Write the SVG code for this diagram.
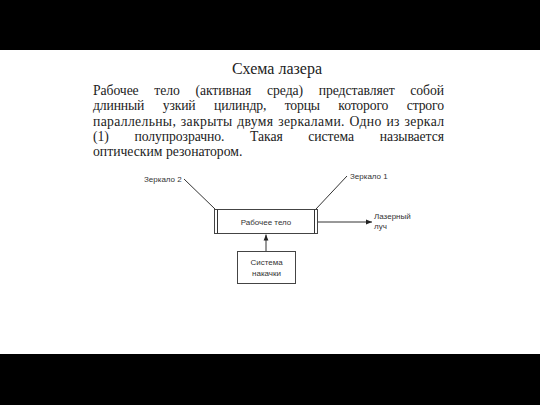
<svg xmlns="http://www.w3.org/2000/svg" width="540" height="405" viewBox="0 0 540 405">
<defs>
<style>
.t{font-family:"Liberation Serif","Times New Roman",serif;font-size:13.7px;fill:#222}
.h{font-family:"Liberation Serif","Times New Roman",serif;font-size:16px;fill:#222}
.d{font-family:"Liberation Sans",Arial,sans-serif;font-size:8px;fill:#333}
.b{fill:#fff;stroke:#444;stroke-width:1}
.c{stroke:#333;stroke-width:1;fill:none}
</style>
<marker id="ah" viewBox="0 0 10 10" refX="10" refY="5" markerWidth="6" markerHeight="6" orient="auto" markerUnits="userSpaceOnUse">
<path d="M0,1 L10,5 L0,9 z" fill="#222"/>
</marker>
</defs>
<rect x="0" y="0" width="540" height="405" fill="#fff"/>
<rect x="0" y="0" width="540" height="50" fill="#000"/>
<rect x="0" y="354" width="540" height="51" fill="#000"/>

<text class="h" x="277" y="74" text-anchor="middle">Схема лазера</text>
<g class="t">
<text x="93" y="95" textLength="351" lengthAdjust="spacing" word-spacing="12.4">Рабочее тело (активная среда) представляет собой</text>
<text x="93" y="110" textLength="351" lengthAdjust="spacing" word-spacing="15.2">длинный узкий цилиндр, торцы которого строго</text>
<text x="93" y="126" textLength="351" lengthAdjust="spacing" word-spacing="1">параллельны, закрыты двумя зеркалами. Одно из зеркал</text>
<text x="93" y="141" textLength="351" lengthAdjust="spacing" word-spacing="22.3">(1) полупрозрачно. Такая система называется</text>
<text x="93" y="156">оптическим резонатором.</text>
</g>

<g id="connectors">
<line class="c" x1="184" y1="179" x2="215" y2="209"/>
<line class="c" x1="347" y1="176" x2="316" y2="209"/>
<line class="c" x1="318" y1="222" x2="372" y2="222" marker-end="url(#ah)"/>
<line class="c" x1="266" y1="251" x2="266" y2="234.5" marker-end="url(#ah)"/>
</g>

<g id="mirror2"><text class="d" x="144" y="182">Зеркало 2</text></g>
<g id="mirror1"><text class="d" x="350" y="179">Зеркало 1</text></g>

<g id="body">
<rect class="b" x="214.5" y="209.5" width="103" height="24"/>
<line class="c" x1="217.5" y1="209.5" x2="217.5" y2="233.5"/>
<line class="c" x1="314.5" y1="209.5" x2="314.5" y2="233.5"/>
<text class="d" x="266" y="225" text-anchor="middle">Рабочее тело</text>
</g>

<g id="beam">
<text class="d" x="374" y="219">Лазерный</text>
<text class="d" x="374" y="229">луч</text>
</g>

<g id="pump">
<rect class="b" x="237.5" y="251.5" width="58" height="32"/>
<text class="d" x="266.5" y="265" text-anchor="middle">Система</text>
<text class="d" x="266.5" y="276" text-anchor="middle">накачки</text>
</g>
</svg>
